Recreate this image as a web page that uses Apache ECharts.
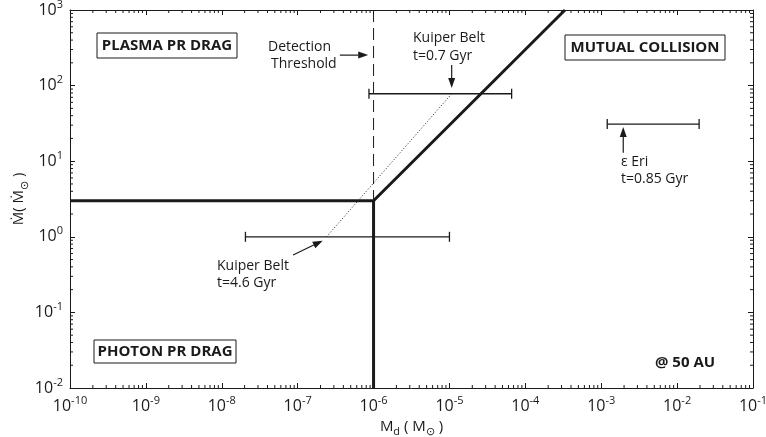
<!DOCTYPE html>
<html>
<head>
<meta charset="utf-8">
<script src="https://cdn.jsdelivr.net/npm/echarts@6/dist/echarts.min.js"></script>
<style>
  html, body { margin: 0; padding: 0; background: #fff; }
  #chart { width: 766px; height: 437px; }
</style>
</head>
<body>
<div id="chart"></div>
<script>
// axis decades (exponents of ten)
const xExponents = [-10, -9, -8, -7, -6, -5, -4, -3, -2, -1]
const yExponents = [-2, -1, 0, 1, 2, 3]

// regime boundaries  [Md, Mdot]
const boundaryRight = [[1e-10, 3], [1e-6, 3], [3.33e-4, 1000]]
const boundaryDown = [[1e-6, 3], [1e-6, 0.01]]
const detectionLimit = [[1e-6, 1000], [1e-6, 3]]
const kuiperTrack = [[2.4e-7, 1], [1.07e-5, 78]]

// error bars  [xLow, xHigh, y]
const errorBars = [
  [8.7e-7, 6.6e-5, 78],
  [2.05e-8, 1.0e-5, 1],
  [1.2e-3, 1.95e-2, 31]
]

// annotation arrows  [x0, y0, x1, y1]
const arrows = [
  [3.6e-7, 253, 8.5e-7, 253],
  [1.07e-5, 187, 1.07e-5, 93],
  [8.7e-8, 0.575, 2.14e-7, 0.89],
  [1.95e-3, 12.9, 1.95e-3, 28.3]
]

const FONT = '"Open Sans", sans-serif'
const INK = '#1a1a1a'

// minor log ticks 2..9 in every decade
const minorOf = exps => {
  const out = []
  for (let i = 0; i < exps.length - 1; i++) {
    for (let k = 2; k <= 9; k++) out.push(k * Math.pow(10, exps[i]))
  }
  return out
}
const xMinor = minorOf(xExponents)
const yMinor = minorOf(yExponents)

const powLabel = v => {
  const e = Math.round(Math.log10(v))
  return '{b|10}{s|' + e + '}'
}
const powRich = {
  b: { fontSize: 16, lineHeight: 22, color: INK, fontFamily: FONT },
  s: { fontSize: 11, verticalAlign: 'top', color: INK, fontFamily: FONT }
}

const axisBase = {
  type: 'log',
  logBase: 10,
  axisLine: { lineStyle: { color: INK, width: 1 } },
  axisTick: { inside: true, length: 5, lineStyle: { color: INK } },
  splitLine: { show: false }
}

const nameRich = {
  m: { fontSize: 15, color: INK, fontFamily: FONT },
  sub: { fontSize: 11, verticalAlign: 'bottom', lineHeight: 22, color: INK, fontFamily: FONT }
}

const chart = echarts.init(document.getElementById('chart'))

const option = {
  animation: false,
  backgroundColor: '#fff',
  textStyle: { fontFamily: FONT },
  grid: { left: 70, right: 13, top: 10, bottom: 49, outerBoundsMode: 'none', containLabel: false },
  xAxis: [
    {
      ...axisBase,
      min: 1e-10, max: 1e-1,
      position: 'bottom',
      axisLabel: { formatter: powLabel, rich: powRich, margin: 7 },
      name: '{m|M}{sub|d}{m| ( M}{sub|⊙}{m| )}',
      nameLocation: 'middle',
      nameGap: 25,
      nameTextStyle: { rich: nameRich }
    },
    {
      ...axisBase,
      min: 1e-10, max: 1e-1,
      position: 'top',
      axisLabel: { show: false }
    }
  ],
  yAxis: [
    {
      ...axisBase,
      min: 1e-2, max: 1e3,
      position: 'left',
      axisLabel: { formatter: powLabel, rich: powRich, margin: 7 },
      name: '{m|Ṁ( Ṁ}{sub|⊙}{m| )}',
      nameLocation: 'middle',
      nameGap: 40,
      nameMoveOverlap: false,
      nameRotate: 90,
      nameTextStyle: { rich: nameRich }
    },
    {
      ...axisBase,
      min: 1e-2, max: 1e3,
      position: 'right',
      axisLabel: { show: false }
    }
  ],
  series: [
    {
      type: 'line',
      data: boundaryRight,
      symbol: 'none',
      lineStyle: { color: INK, width: 3 },
      z: 5
    },
    {
      type: 'line',
      data: boundaryDown,
      symbol: 'none',
      lineStyle: { color: INK, width: 3 },
      z: 5
    },
    {
      type: 'line',
      data: detectionLimit,
      symbol: 'none',
      lineStyle: { color: INK, width: 1, type: [12, 6] }
    },
    {
      type: 'line',
      data: kuiperTrack,
      symbol: 'none',
      lineStyle: { color: INK, width: 1, type: [1, 2] }
    },
    {
      // error bars with end caps
      type: 'custom',
      data: errorBars,
      encode: { x: [0, 1], y: 2 },
      renderItem: (params, api) => {
        const a = api.coord([api.value(0), api.value(2)])
        const b = api.coord([api.value(1), api.value(2)])
        const st = { stroke: INK, lineWidth: 1.3 }
        return {
          type: 'group',
          children: [
            { type: 'line', shape: { x1: a[0], y1: a[1], x2: b[0], y2: b[1] }, style: st },
            { type: 'line', shape: { x1: a[0], y1: a[1] - 5, x2: a[0], y2: a[1] + 5 }, style: st },
            { type: 'line', shape: { x1: b[0], y1: b[1] - 5, x2: b[0], y2: b[1] + 5 }, style: st }
          ]
        }
      }
    },
    {
      // pointer arrows
      type: 'custom',
      data: arrows,
      encode: { x: [0, 2], y: [1, 3] },
      renderItem: (params, api) => {
        const p0 = api.coord([api.value(0), api.value(1)])
        const p1 = api.coord([api.value(2), api.value(3)])
        const dx = p1[0] - p0[0], dy = p1[1] - p0[1]
        const len = Math.sqrt(dx * dx + dy * dy)
        const ux = dx / len, uy = dy / len
        const hl = 10, hw = 3.5
        const bx = p1[0] - ux * hl, by = p1[1] - uy * hl
        return {
          type: 'group',
          children: [
            { type: 'line', shape: { x1: p0[0], y1: p0[1], x2: bx, y2: by }, style: { stroke: INK, lineWidth: 1.2 } },
            {
              type: 'polygon',
              shape: { points: [[p1[0], p1[1]], [bx - uy * hw, by + ux * hw], [bx + uy * hw, by - ux * hw]] },
              style: { fill: INK }
            }
          ]
        }
      }
    },
    {
      // minor ticks on the x axes
      type: 'custom',
      data: xMinor.map(v => [v, 1]),
      renderItem: (params, api) => {
        const p = api.coord([api.value(0), api.value(1)])
        const cs = params.coordSys
        const st = { stroke: INK, lineWidth: 1 }
        return {
          type: 'group',
          children: [
            { type: 'line', shape: { x1: p[0], y1: cs.y + cs.height, x2: p[0], y2: cs.y + cs.height - 3 }, style: st },
            { type: 'line', shape: { x1: p[0], y1: cs.y, x2: p[0], y2: cs.y + 3 }, style: st }
          ]
        }
      }
    },
    {
      // minor ticks on the y axes
      type: 'custom',
      data: yMinor.map(v => [1e-5, v]),
      renderItem: (params, api) => {
        const p = api.coord([api.value(0), api.value(1)])
        const cs = params.coordSys
        const st = { stroke: INK, lineWidth: 1 }
        return {
          type: 'group',
          children: [
            { type: 'line', shape: { x1: cs.x, y1: p[1], x2: cs.x + 3, y2: p[1] }, style: st },
            { type: 'line', shape: { x1: cs.x + cs.width, y1: p[1], x2: cs.x + cs.width - 3, y2: p[1] }, style: st }
          ]
        }
      }
    }
  ],
  graphic: [
    // regime boxes
    { type: 'rect', shape: { x: 97, y: 33, width: 140, height: 25 }, style: { fill: '#fff', stroke: INK, lineWidth: 1 }, z: 10 },
    { type: 'text', x: 167, y: 46, style: { text: 'PLASMA PR DRAG', font: 'bold 15px ' + FONT, fill: INK, align: 'center', verticalAlign: 'middle' }, z: 11 },
    { type: 'rect', shape: { x: 565, y: 35, width: 160, height: 25 }, style: { fill: '#fff', stroke: INK, lineWidth: 1 }, z: 10 },
    { type: 'text', x: 645, y: 48, style: { text: 'MUTUAL COLLISION', font: 'bold 15px ' + FONT, fill: INK, align: 'center', verticalAlign: 'middle' }, z: 11 },
    { type: 'rect', shape: { x: 94, y: 340, width: 142, height: 23 }, style: { fill: '#fff', stroke: INK, lineWidth: 1 }, z: 10 },
    { type: 'text', x: 165, y: 352, style: { text: 'PHOTON PR DRAG', font: 'bold 15px ' + FONT, fill: INK, align: 'center', verticalAlign: 'middle' }, z: 11 },
    { type: 'text', x: 655, y: 363, style: { text: '@ 50 AU', font: 'bold 15px ' + FONT, fill: INK, verticalAlign: 'middle' }, z: 11 },
    // annotations
    { type: 'text', x: 268, y: 47, style: { text: 'Detection', font: '14px ' + FONT, fill: INK, verticalAlign: 'middle' } },
    { type: 'text', x: 271, y: 64, style: { text: 'Threshold', font: '14px ' + FONT, fill: INK, verticalAlign: 'middle' } },
    { type: 'text', x: 413, y: 38, style: { text: 'Kuiper Belt', font: '14px ' + FONT, fill: INK, verticalAlign: 'middle' } },
    { type: 'text', x: 413, y: 56, style: { text: 't=0.7 Gyr', font: '14px ' + FONT, fill: INK, verticalAlign: 'middle' } },
    { type: 'text', x: 217, y: 266, style: { text: 'Kuiper Belt', font: '14px ' + FONT, fill: INK, verticalAlign: 'middle' } },
    { type: 'text', x: 217, y: 283, style: { text: 't=4.6 Gyr', font: '14px ' + FONT, fill: INK, verticalAlign: 'middle' } },
    { type: 'text', x: 621, y: 162, style: { text: 'ε Eri', font: '14px ' + FONT, fill: INK, verticalAlign: 'middle' } },
    { type: 'text', x: 621, y: 179, style: { text: 't=0.85 Gyr', font: '14px ' + FONT, fill: INK, verticalAlign: 'middle' } }
  ]
}

chart.setOption(option)
</script>
</body>
</html>
